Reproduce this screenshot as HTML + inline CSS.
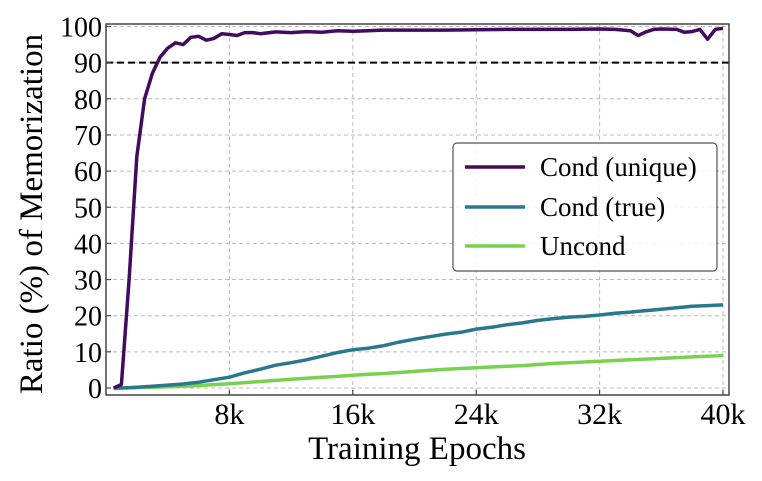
<!DOCTYPE html>
<html><head><meta charset="utf-8"><style>
body{margin:0;background:#fff;width:762px;height:481px;overflow:hidden}
svg{display:block;font-family:"Liberation Serif",serif}
</style></head><body>
<svg id="chart" width="762" height="481"></svg>
<script>
const xTicks=[8,16,24,32,40];
const xTickLabels=["8k","16k","24k","32k","40k"];
const yTicks=[0,10,20,30,40,50,60,70,80,90,100];
const uniqueEpochs=[0.5,1,1.5,2,2.5,3,3.5,4,4.5,5,5.5,6,6.5,7,7.5,8,8.5,9,9.5,10,11,12,13,14,15,16,17,18,20,22,24,26,28,30,32,33,34,34.5,35,35.5,36,37,37.5,38,38.5,39,39.5,40];
const uniqueValues=[0,1,30,64,80,87,91.5,94,95.5,95,97,97.3,96.2,96.7,98,97.8,97.5,98.3,98.3,98,98.5,98.3,98.6,98.4,98.8,98.7,98.8,99,99,99,99.1,99.2,99.2,99.2,99.3,99.2,98.8,97.5,98.5,99.2,99.3,99.2,98.4,98.6,99.2,96.5,99.2,99.5];
const epochs=[0.5,1,2,3,4,5,6,7,8,9,10,11,12,13,14,15,16,17,18,19,20,21,22,23,24,25,26,27,28,29,30,31,32,33,34,35,36,37,38,39,40];
const trueValues=[0,0,0.2,0.5,0.8,1.1,1.6,2.3,3,4.2,5.2,6.3,7,7.8,8.8,9.8,10.6,11,11.7,12.7,13.5,14.2,14.9,15.4,16.3,16.8,17.5,18,18.7,19.2,19.6,19.8,20.2,20.7,21,21.4,21.8,22.2,22.6,22.8,23];
const uncondValues=[0,0,0.1,0.2,0.35,0.5,0.7,0.95,1.2,1.5,1.8,2.1,2.4,2.7,3,3.2,3.5,3.8,4,4.3,4.6,4.9,5.2,5.4,5.6,5.8,6,6.2,6.5,6.8,7,7.2,7.4,7.6,7.8,8,8.2,8.4,8.6,8.8,9];
const L=106,R=729,T=24,B=395;
const xs=v=>L+v*(723-L)/40;
const ys=v=>388-v*(388-26.5)/100;
const svg=document.getElementById('chart');
const NS='http://www.w3.org/2000/svg';
function el(tag,attrs,parent){const e=document.createElementNS(NS,tag);for(const k in attrs)e.setAttribute(k,attrs[k]);(parent||svg).appendChild(e);return e;}
yTicks.forEach(v=>{const g=el('line',{x1:L,x2:R,y1:ys(v),y2:ys(v),stroke:'#bbb','stroke-width':1,'stroke-dasharray':'4,3'});

});
xTicks.forEach(v=>{const g=el('line',{x1:xs(v),x2:xs(v),y1:T,y2:B,stroke:'#bbb','stroke-width':1,'stroke-dasharray':'4,3'});

});
const th=el('line',{x1:L,x2:R,y1:ys(90),y2:ys(90),stroke:'#000','stroke-width':2,'stroke-dasharray':'7,4'});


function series(xv,yv,color,name){const d=xv.map((x,i)=>(i?'L':'M')+xs(x).toFixed(1)+','+ys(yv[i]).toFixed(1)).join(' ');
const p=el('path',{d:d,fill:'none',stroke:color,'stroke-width':3.5,'stroke-linejoin':'round'});

}
series(epochs,uncondValues,'#7ad151','line-uncond');
series(epochs,trueValues,'#2a788e','line-cond-true');
series(uniqueEpochs,uniqueValues,'#440a5e','line-cond-unique');
const fr=el('rect',{x:L,y:T,width:R-L,height:B-T,fill:'none',stroke:'#444','stroke-width':1.5});


yTicks.forEach(v=>{el('line',{x1:L,x2:L+5,y1:ys(v),y2:ys(v),stroke:'#444','stroke-width':1.2});
const t=el('text',{x:L-4,y:ys(v)+10,'text-anchor':'end','font-size':28});t.textContent=v;

});
xTicks.forEach((v,i)=>{el('line',{x1:xs(v),x2:xs(v),y1:B,y2:B-5,stroke:'#444','stroke-width':1.2});
const t=el('text',{x:xs(v),y:424,'text-anchor':'middle','font-size':30});t.textContent=xTickLabels[i];

});
const xt=el('text',{x:417,y:459,'text-anchor':'middle','font-size':33});xt.textContent='Training Epochs';


const yt=el('text',{x:0,y:0,'text-anchor':'middle','font-size':33,transform:'translate(42,214) rotate(-90)'});yt.textContent='Ratio (%) of Memorization';


const lg=el('rect',{x:453,y:143,width:264,height:128,rx:4,fill:'#fff','fill-opacity':0.85,stroke:'#555','stroke-width':1.2});


[['Cond (unique)','#440a5e',167],['Cond (true)','#2a788e',207],['Uncond','#7ad151',246]].forEach(e=>{
el('line',{x1:465,x2:525,y1:e[2],y2:e[2],stroke:e[1],'stroke-width':3.5});
const t=el('text',{x:540,y:e[2]+9,'font-size':27});t.textContent=e[0];

});
</script>
</body></html>
